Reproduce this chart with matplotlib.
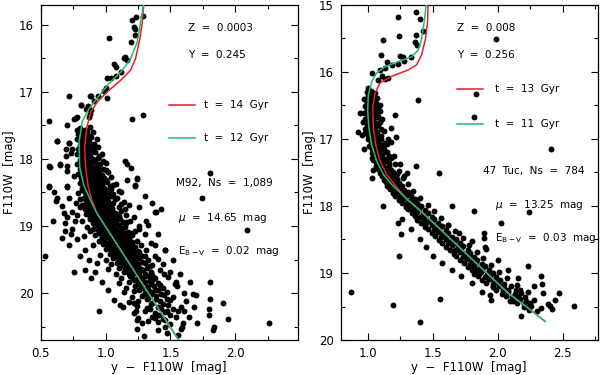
import matplotlib
matplotlib.use("Agg")
import matplotlib.pyplot as plt
from matplotlib.ticker import MultipleLocator

# --- M92 (left panel): observed stars (y - F110W, F110W) ---
m92_outliers = [
    (1.231, 15.89), (1.205, 15.93), (1.218, 16.04), (1.23, 16.07), (1.223, 16.16), (1.192, 16.26),
    (1.29, 15.87), (1.026, 16.20), (1.149, 16.48), (1.162, 16.52), (1.14, 16.50), (1.064, 16.58),
    (1.077, 16.63), (1.115, 16.71), (1.077, 16.76), (1.038, 16.80), (1.013, 16.79), (1.0, 16.95),
    (0.987, 16.99), (0.94, 17.07), (1.008, 17.10), (0.91, 17.14), (0.885, 17.06), (0.808, 17.20),
    (0.846, 17.25), (0.885, 17.27), (0.777, 17.37), (0.77, 17.39), (0.718, 17.07), (0.564, 17.44),
    (0.705, 17.50), (1.205, 17.40), (1.29, 17.35), (0.782, 17.57), (0.808, 17.64), (0.623, 17.73),
    (0.718, 17.76), (0.692, 17.86), (0.731, 17.91), (0.692, 17.95), (0.649, 18.08), (0.564, 18.11),
    (0.705, 18.11), (0.705, 18.18), (1.146, 18.03), (1.162, 18.07), (1.167, 18.31), (1.244, 18.30),
    (1.808, 18.21), (0.564, 18.40), (0.70, 18.40), (1.226, 18.39), (0.882, 17.06), (0.754, 17.40),
    (0.869, 17.38), (0.882, 17.33), (0.81, 17.20), (0.864, 17.21), (0.626, 17.74), (0.72, 17.76),
    (0.741, 17.85), (0.574, 18.12), (0.651, 18.09), (0.754, 18.26), (0.567, 18.42), (0.60, 18.50),
    (0.703, 18.42), (1.036, 18.47), (1.10, 18.48), (1.197, 18.14), (1.241, 18.29), (1.228, 18.40),
    (0.626, 18.58), (0.592, 18.92), (0.677, 18.81), (0.685, 19.08), (0.741, 19.04), (0.715, 19.29),
    (0.531, 19.45), (0.759, 19.69), (0.844, 19.66), (0.89, 19.78), (0.946, 20.26), (0.92, 19.68),
    (1.356, 18.66), (1.377, 18.79), (1.31, 18.93), (1.156, 18.94), (1.254, 19.04), (1.382, 19.28),
    (1.459, 19.36), (1.062, 20.10), (1.108, 20.18), (1.215, 20.14), (1.233, 20.27), (1.241, 20.40),
    (1.377, 20.37), (1.472, 20.26), (1.292, 20.64), (1.743, 18.58), (1.423, 18.75), (1.385, 18.79),
    (2.09, 19.06), (1.461, 19.36), (1.50, 19.68), (1.572, 19.71), (1.802, 19.84), (1.649, 19.84),
    (1.538, 19.87), (1.602, 20.00), (1.674, 20.02), (1.70, 20.03), (1.905, 20.14), (1.802, 20.09),
    (1.602, 20.27), (1.795, 20.23), (1.795, 20.32), (1.941, 20.39), (2.256, 20.45), (1.705, 20.45),
    (1.59, 20.51), (1.833, 20.51), (1.83, 20.55),
    (0.62, 18.62), (0.66, 18.70), (0.72, 18.58), (0.69, 18.95), (0.76, 18.92), (0.73, 19.12),
    (0.78, 19.20), (0.66, 19.18), (0.80, 19.45), (0.87, 19.50), (0.93, 19.55), (0.97, 19.84),
    (1.02, 19.95), (1.30, 18.55), (1.26, 18.72), (1.33, 18.98), (1.40, 19.12), (1.38, 19.44),
    (1.44, 19.56), (1.52, 19.50), (1.55, 19.90), (1.62, 20.12), (1.68, 20.20), (1.47, 20.60),
    (1.56, 20.62), (1.40, 20.55), (1.64, 20.35),
]

m92_sequence = [
    (0.80, 17.54), (0.84, 17.57), (0.88, 17.53),
    (0.79, 17.63), (0.83, 17.61), (0.86, 17.64), (0.90, 17.60),
    (0.78, 17.71), (0.82, 17.69), (0.85, 17.72), (0.89, 17.68), (0.93, 17.71),
    (0.80, 17.79), (0.84, 17.77), (0.87, 17.80), (0.91, 17.78),
    (0.79, 17.86), (0.82, 17.84), (0.86, 17.87), (0.89, 17.85), (0.94, 17.83),
    (0.78, 17.93), (0.81, 17.91), (0.84, 17.94), (0.88, 17.92), (0.92, 17.90), (0.97, 17.93),
    (0.80, 18.01), (0.83, 17.99), (0.86, 18.02), (0.90, 18.00), (0.94, 17.98),
    (0.78, 18.08), (0.82, 18.06), (0.85, 18.09), (0.88, 18.07), (0.92, 18.05), (0.96, 18.08), (1.00, 18.06),
    (0.80, 18.15), (0.83, 18.13), (0.87, 18.16), (0.90, 18.14), (0.94, 18.12), (0.98, 18.15),
    (0.79, 18.22), (0.82, 18.20), (0.85, 18.23), (0.89, 18.21), (0.92, 18.19), (0.96, 18.22), (1.02, 18.20),
    (0.81, 18.29), (0.84, 18.27), (0.88, 18.30), (0.91, 18.28), (0.95, 18.26), (0.99, 18.29), (1.04, 18.27),
    (0.80, 18.36), (0.83, 18.34), (0.86, 18.37), (0.90, 18.35), (0.93, 18.33), (0.97, 18.36), (1.01, 18.34),
    (1.08, 18.37),
    (0.82, 18.43), (0.85, 18.41), (0.88, 18.44), (0.92, 18.42), (0.95, 18.40), (0.99, 18.43), (1.03, 18.41),
    (0.79, 18.51), (0.84, 18.49), (0.87, 18.52), (0.90, 18.50), (0.94, 18.48), (0.97, 18.51), (1.01, 18.49),
    (1.06, 18.52), (1.12, 18.50),
    (0.83, 18.58), (0.86, 18.56), (0.89, 18.59), (0.93, 18.57), (0.96, 18.55), (1.00, 18.58), (1.04, 18.56),
    (1.09, 18.59),
    (0.77, 18.65), (0.85, 18.63), (0.88, 18.66), (0.91, 18.64), (0.95, 18.62), (0.98, 18.65), (1.02, 18.63),
    (1.06, 18.66), (1.14, 18.64),
    (0.80, 18.72), (0.84, 18.70), (0.87, 18.73), (0.90, 18.71), (0.94, 18.69), (0.97, 18.72), (1.01, 18.70),
    (1.05, 18.73), (1.10, 18.71), (1.18, 18.69),
    (0.74, 18.79), (0.86, 18.77), (0.89, 18.80), (0.92, 18.78), (0.96, 18.76), (0.99, 18.79), (1.03, 18.77),
    (1.07, 18.80), (1.12, 18.78),
    (0.70, 18.86), (0.78, 18.84), (0.88, 18.87), (0.91, 18.85), (0.95, 18.83), (0.98, 18.86), (1.02, 18.84),
    (1.06, 18.87), (1.10, 18.85), (1.16, 18.83), (1.22, 18.86),
    (0.82, 18.93), (0.90, 18.91), (0.93, 18.94), (0.97, 18.92), (1.00, 18.90), (1.04, 18.93), (1.08, 18.91),
    (1.13, 18.94), (1.19, 18.92),
    (0.86, 19.01), (0.92, 18.99), (0.95, 19.02), (0.99, 19.00), (1.02, 18.98), (1.06, 19.01), (1.10, 18.99),
    (1.15, 19.02), (1.26, 19.00),
    (0.88, 19.08), (0.94, 19.06), (0.98, 19.09), (1.01, 19.07), (1.05, 19.05), (1.08, 19.08), (1.12, 19.06),
    (1.17, 19.09), (1.23, 19.07),
    (0.83, 19.15), (0.92, 19.13), (0.97, 19.16), (1.00, 19.14), (1.04, 19.12), (1.07, 19.15), (1.11, 19.13),
    (1.15, 19.16), (1.20, 19.14), (1.30, 19.12),
    (0.95, 19.22), (0.99, 19.20), (1.03, 19.23), (1.06, 19.21), (1.10, 19.19), (1.14, 19.22), (1.18, 19.20),
    (1.24, 19.23),
    (0.90, 19.29), (0.98, 19.27), (1.02, 19.30), (1.05, 19.28), (1.09, 19.26), (1.13, 19.29), (1.17, 19.27),
    (1.21, 19.30), (1.27, 19.28), (1.35, 19.26),
    (0.84, 19.36), (1.00, 19.34), (1.04, 19.37), (1.08, 19.35), (1.12, 19.33), (1.16, 19.36), (1.20, 19.34),
    (1.25, 19.37), (1.31, 19.35),
    (0.96, 19.43), (1.03, 19.41), (1.07, 19.44), (1.11, 19.42), (1.15, 19.40), (1.19, 19.43), (1.23, 19.41),
    (1.28, 19.44),
    (1.00, 19.50), (1.06, 19.48), (1.10, 19.51), (1.14, 19.49), (1.18, 19.47), (1.22, 19.50), (1.26, 19.48),
    (1.33, 19.51), (1.40, 19.49),
    (1.04, 19.57), (1.09, 19.55), (1.13, 19.58), (1.17, 19.56), (1.21, 19.54), (1.25, 19.57), (1.30, 19.55),
    (1.36, 19.58),
    (1.02, 19.64), (1.10, 19.62), (1.15, 19.65), (1.19, 19.63), (1.23, 19.61), (1.27, 19.64), (1.32, 19.62),
    (1.42, 19.65),
    (1.08, 19.71), (1.14, 19.69), (1.18, 19.72), (1.22, 19.70), (1.26, 19.68), (1.30, 19.71), (1.35, 19.69),
    (1.45, 19.72),
    (1.12, 19.78), (1.20, 19.76), (1.24, 19.79), (1.28, 19.77), (1.33, 19.75), (1.38, 19.78), (1.48, 19.76),
    (1.10, 19.85), (1.18, 19.83), (1.25, 19.86), (1.30, 19.84), (1.34, 19.82), (1.40, 19.85), (1.54, 19.83),
    (1.16, 19.92), (1.23, 19.90), (1.28, 19.93), (1.32, 19.91), (1.37, 19.89), (1.44, 19.92),
    (1.14, 19.99), (1.22, 19.97), (1.30, 20.00), (1.35, 19.98), (1.40, 19.96), (1.47, 19.99),
    (1.20, 20.06), (1.28, 20.04), (1.33, 20.07), (1.39, 20.05), (1.45, 20.03), (1.52, 20.06),
    (1.18, 20.13), (1.25, 20.11), (1.36, 20.14), (1.42, 20.12), (1.50, 20.10),
    (1.13, 20.21), (1.24, 20.19), (1.32, 20.22), (1.40, 20.20), (1.48, 20.18), (1.58, 20.21),
    (1.22, 20.29), (1.30, 20.27), (1.38, 20.30), (1.46, 20.28), (1.56, 20.26),
    (1.25, 20.37), (1.36, 20.35), (1.44, 20.38), (1.54, 20.36),
    (1.28, 20.45), (1.40, 20.43), (1.50, 20.46), (1.60, 20.44),
    (1.24, 20.53), (1.46, 20.51), (1.58, 20.54),
]

m92_sequence_fill = [
    (0.82, 17.58), (0.86, 17.59), (0.81, 17.66), (0.88, 17.66), (0.80, 17.74), (0.83, 17.75), (0.87, 17.74),
    (0.81, 17.82), (0.85, 17.81), (0.92, 17.82), (0.80, 17.89), (0.83, 17.88), (0.87, 17.89), (0.90, 17.88),
    (0.82, 17.96), (0.85, 17.97), (0.88, 17.96), (0.95, 17.96), (0.81, 18.04), (0.84, 18.03), (0.88, 18.04),
    (0.92, 18.03), (0.98, 18.03), (0.81, 18.11), (0.85, 18.11), (0.89, 18.10), (0.93, 18.11), (0.82, 18.18),
    (0.86, 18.18), (0.90, 18.17), (0.94, 18.18), (1.00, 18.17), (0.83, 18.25), (0.87, 18.25), (0.90, 18.24),
    (0.93, 18.25), (0.97, 18.24), (0.82, 18.32), (0.86, 18.31), (0.89, 18.32), (0.92, 18.31), (0.96, 18.32),
    (1.00, 18.31), (0.84, 18.39), (0.87, 18.38), (0.91, 18.39), (0.94, 18.38), (0.97, 18.39), (1.06, 18.39),
    (0.82, 18.46), (0.86, 18.46), (0.89, 18.45), (0.93, 18.46), (0.96, 18.45), (1.00, 18.46), (1.04, 18.45),
    (0.85, 18.54), (0.88, 18.53), (0.92, 18.54), (0.95, 18.53), (0.99, 18.54), (1.03, 18.53), (0.80, 18.60),
    (0.87, 18.61), (0.90, 18.60), (0.94, 18.61), (0.97, 18.60), (1.01, 18.61), (1.07, 18.60), (0.82, 18.68),
    (0.86, 18.67), (0.89, 18.68), (0.92, 18.67), (0.96, 18.68), (1.00, 18.67), (1.03, 18.68), (1.12, 18.67),
    (0.84, 18.75), (0.88, 18.74), (0.91, 18.75), (0.94, 18.74), (0.98, 18.75), (1.01, 18.74), (1.05, 18.75),
    (1.15, 18.74), (0.85, 18.82), (0.90, 18.81), (0.93, 18.82), (0.97, 18.81), (1.00, 18.82), (1.04, 18.81),
    (1.08, 18.82), (0.88, 18.89), (0.92, 18.88), (0.95, 18.89), (0.99, 18.88), (1.02, 18.89), (1.06, 18.88),
    (1.11, 18.89), (0.90, 18.96), (0.94, 18.96), (0.97, 18.95), (1.01, 18.96), (1.04, 18.95), (1.08, 18.96),
    (1.16, 18.95), (0.90, 19.04), (0.97, 19.03), (1.00, 19.04), (1.04, 19.03), (1.08, 19.04), (1.13, 19.03),
    (0.95, 19.11), (0.99, 19.10), (1.03, 19.11), (1.06, 19.10), (1.10, 19.11), (1.14, 19.10), (1.20, 19.11),
    (0.97, 19.18), (1.01, 19.17), (1.05, 19.18), (1.09, 19.17), (1.12, 19.18), (1.17, 19.17), (1.00, 19.25),
    (1.04, 19.24), (1.08, 19.25), (1.11, 19.24), (1.15, 19.25), (1.20, 19.24), (1.02, 19.32), (1.06, 19.31),
    (1.10, 19.32), (1.14, 19.31), (1.18, 19.32), (1.23, 19.31), (1.05, 19.39), (1.09, 19.38), (1.13, 19.39),
    (1.17, 19.38), (1.21, 19.39), (1.26, 19.38), (1.08, 19.46), (1.12, 19.45), (1.16, 19.46), (1.20, 19.45),
    (1.24, 19.46), (1.30, 19.45), (1.11, 19.53), (1.15, 19.52), (1.19, 19.53), (1.23, 19.52), (1.28, 19.53),
    (1.13, 19.60), (1.17, 19.59), (1.21, 19.60), (1.25, 19.59), (1.34, 19.60), (1.16, 19.67), (1.20, 19.66),
    (1.24, 19.67), (1.29, 19.66), (1.19, 19.74), (1.26, 19.73), (1.31, 19.74), (1.36, 19.73), (1.22, 19.81),
    (1.28, 19.80), (1.36, 19.81), (1.27, 19.88), (1.35, 19.87), (1.42, 19.88), (1.26, 19.95), (1.33, 19.94),
    (1.38, 19.95), (1.31, 20.02), (1.36, 20.01), (1.43, 20.02), (1.32, 20.09), (1.39, 20.08), (1.47, 20.09),
    (1.35, 20.16), (1.44, 20.16), (1.34, 20.24), (1.43, 20.24), (1.52, 20.24), (1.41, 20.32), (1.50, 20.33),
    (1.33, 20.41), (1.46, 20.40),
]

# M92 isochrones
m92_iso14_color = [1.295, 1.282, 1.264, 1.23, 1.192, 1.115, 1.013, 0.936, 0.885, 0.854, 0.838, 0.846,
                   0.864, 0.89, 0.93, 0.997, 1.063, 1.13, 1.197, 1.263, 1.33, 1.397, 1.463, 1.53, 1.60, 1.636]
m92_iso14_mag = [15.67, 15.97, 16.21, 16.51, 16.68, 16.83, 17.0, 17.15, 17.30, 17.54, 17.84, 18.13,
                 18.40, 18.60, 18.80, 19.0, 19.2, 19.4, 19.6, 19.8, 20.0, 20.2, 20.4, 20.6, 20.8, 20.9]
m92_iso12_color = [1.295, 1.269, 1.244, 1.192, 1.115, 1.038, 0.962, 0.872, 0.82, 0.795, 0.80, 0.833,
                   0.88, 0.93, 0.997, 1.063, 1.13, 1.197, 1.263, 1.33, 1.397, 1.463, 1.53, 1.60, 1.636]
m92_iso12_mag = [15.67, 15.97, 16.26, 16.51, 16.71, 16.85, 17.03, 17.25, 17.44, 17.74, 18.13, 18.40,
                 18.60, 18.80, 19.0, 19.2, 19.4, 19.6, 19.8, 20.0, 20.2, 20.4, 20.6, 20.8, 20.9]

# --- 47 Tuc (right panel) ---
tuc_outliers = [
    (1.233, 15.19), (1.366, 15.11), (1.40, 15.22), (1.241, 15.47), (1.118, 15.53), (1.366, 15.46),
    (1.361, 15.56), (1.374, 15.61), (1.425, 15.40), (1.097, 15.75), (1.246, 15.76), (1.271, 15.78),
    (1.33, 15.78), (1.143, 15.86), (1.182, 15.90), (1.228, 15.88), (1.28, 15.84), (1.028, 16.02),
    (1.092, 15.98), (1.13, 15.95), (1.105, 16.06), (1.156, 16.09), (1.13, 16.11), (1.079, 16.12),
    (1.387, 16.43), (1.0, 16.25), (1.015, 16.40), (0.99, 16.44), (1.015, 16.52), (0.99, 16.57),
    (1.079, 16.54), (1.092, 16.59), (1.066, 16.67), (1.207, 16.64), (0.925, 16.90), (0.977, 16.86),
    (1.028, 16.81), (1.177, 16.84), (1.09, 16.75), (1.079, 16.96), (1.215, 16.98), (1.028, 17.06),
    (1.13, 17.08), (1.151, 17.01), (1.143, 17.19), (1.028, 17.28), (1.369, 17.41), (1.548, 17.51),
    (1.041, 17.46), (1.22, 17.52), (1.297, 17.51), (1.28, 17.56), (1.028, 17.59),
    (1.99, 15.52), (1.833, 16.34), (1.818, 16.68), (2.41, 17.15),
    (1.118, 18.0), (1.231, 18.26), (1.252, 18.42), (1.236, 18.75), (0.869, 19.28), (1.189, 19.47),
    (1.40, 19.73), (1.555, 19.39), (1.651, 18.0), (1.818, 18.07), (2.243, 18.09), (2.023, 18.26),
    (1.895, 18.41), (1.895, 18.48), (1.91, 18.64), (2.23, 18.89), (2.333, 19.05), (2.338, 19.16),
    (2.474, 19.30), (2.59, 19.49), (2.177, 19.64), (2.236, 19.51), (1.94, 19.33), (2.095, 19.41),
    (2.39, 19.46), (2.415, 19.53), (2.40, 19.49), (1.859, 19.02), (1.966, 19.19), (2.172, 19.26),
    (1.26, 18.20), (1.33, 18.35), (1.40, 18.50), (1.45, 18.62), (1.50, 18.75), (1.57, 18.85),
    (1.65, 18.95), (1.72, 19.05), (1.80, 19.15), (1.88, 19.28), (1.95, 19.40), (1.62, 18.28),
    (1.70, 18.40), (1.80, 18.52), (1.90, 18.62), (2.00, 18.80), (2.08, 18.95), (2.16, 19.08),
    (2.28, 19.20), (2.35, 19.30), (2.44, 19.40), (0.94, 16.62), (0.95, 16.95), (0.97, 17.15),
    (1.18, 17.05), (1.20, 17.25), (1.25, 17.38),
]

tuc_sequence = [
    (0.99, 16.31), (1.02, 16.29), (1.05, 16.32),
    (0.97, 16.41), (1.00, 16.39), (1.03, 16.42), (1.07, 16.40),
    (0.98, 16.51), (1.01, 16.49), (1.04, 16.52), (1.09, 16.50),
    (0.97, 16.61), (1.00, 16.59), (1.03, 16.62), (1.06, 16.60),
    (0.98, 16.71), (1.01, 16.69), (1.04, 16.72), (1.11, 16.70),
    (0.99, 16.81), (1.02, 16.79), (1.05, 16.82), (1.08, 16.80),
    (0.98, 16.91), (1.01, 16.89), (1.04, 16.92), (1.07, 16.90), (1.12, 16.88),
    (1.00, 17.01), (1.03, 16.99), (1.06, 17.02), (1.10, 17.00),
    (1.01, 17.11), (1.04, 17.09), (1.07, 17.12), (1.10, 17.10), (1.15, 17.08),
    (1.03, 17.21), (1.06, 17.19), (1.09, 17.22), (1.13, 17.20),
    (1.04, 17.31), (1.07, 17.29), (1.10, 17.32), (1.14, 17.30), (1.18, 17.28),
    (1.06, 17.41), (1.09, 17.39), (1.12, 17.42), (1.16, 17.40), (1.21, 17.38),
    (1.09, 17.51), (1.12, 17.49), (1.15, 17.52), (1.19, 17.50), (1.24, 17.48),
    (1.12, 17.61), (1.15, 17.59), (1.18, 17.62), (1.22, 17.60), (1.27, 17.58),
    (1.15, 17.71), (1.19, 17.69), (1.22, 17.72), (1.26, 17.70), (1.31, 17.68),
    (1.19, 17.81), (1.23, 17.79), (1.27, 17.82), (1.31, 17.80), (1.35, 17.78),
    (1.24, 17.91), (1.28, 17.89), (1.32, 17.92), (1.36, 17.90), (1.40, 17.88),
    (1.29, 18.01), (1.33, 17.99), (1.37, 18.02), (1.41, 18.00), (1.46, 17.98),
    (1.34, 18.11), (1.38, 18.09), (1.42, 18.12), (1.46, 18.10), (1.51, 18.08),
    (1.38, 18.21), (1.43, 18.19), (1.47, 18.22), (1.51, 18.20), (1.56, 18.18),
    (1.44, 18.31), (1.49, 18.29), (1.53, 18.32), (1.57, 18.30), (1.62, 18.28),
    (1.49, 18.41), (1.54, 18.39), (1.58, 18.42), (1.62, 18.40), (1.67, 18.38),
    (1.55, 18.51), (1.60, 18.49), (1.64, 18.52), (1.68, 18.50), (1.73, 18.48),
    (1.60, 18.61), (1.65, 18.59), (1.69, 18.62), (1.73, 18.60), (1.78, 18.58),
    (1.66, 18.71), (1.71, 18.69), (1.75, 18.72), (1.79, 18.70), (1.84, 18.68),
    (1.71, 18.81), (1.76, 18.79), (1.80, 18.82), (1.84, 18.80), (1.89, 18.78),
    (1.77, 18.91), (1.82, 18.89), (1.86, 18.92), (1.90, 18.90), (1.95, 18.88),
    (1.82, 19.01), (1.87, 18.99), (1.92, 19.02), (1.96, 19.00), (2.01, 18.98),
    (1.88, 19.11), (1.93, 19.09), (1.97, 19.12), (2.02, 19.10), (2.07, 19.08),
    (1.96, 19.21), (2.01, 19.19), (2.05, 19.22), (2.10, 19.20), (2.15, 19.18),
    (2.03, 19.31), (2.08, 19.29), (2.13, 19.32), (2.18, 19.30), (2.23, 19.28),
    (2.12, 19.41), (2.17, 19.39), (2.22, 19.42), (2.28, 19.40),
    (2.20, 19.51), (2.26, 19.49), (2.33, 19.52),
]

tuc_sequence_fill = [
    (1.00, 16.35), (1.04, 16.36), (0.99, 16.46), (1.02, 16.45), (1.06, 16.46), (0.99, 16.55), (1.02, 16.56),
    (1.06, 16.55), (1.00, 16.66), (1.03, 16.65), (1.08, 16.66), (0.96, 16.75), (1.00, 16.76), (1.03, 16.75),
    (1.06, 16.76), (1.00, 16.85), (1.04, 16.86), (1.10, 16.85), (1.00, 16.95), (1.03, 16.96), (1.06, 16.95),
    (1.10, 16.96), (1.02, 17.05), (1.05, 17.06), (1.08, 17.05), (1.13, 17.06), (1.03, 17.15), (1.06, 17.16),
    (1.09, 17.15), (1.12, 17.16), (1.05, 17.25), (1.08, 17.26), (1.11, 17.25), (1.16, 17.26), (1.06, 17.35),
    (1.09, 17.36), (1.12, 17.35), (1.16, 17.36), (1.08, 17.45), (1.11, 17.46), (1.14, 17.45), (1.18, 17.46),
    (1.11, 17.55), (1.14, 17.56), (1.17, 17.55), (1.21, 17.56), (1.14, 17.65), (1.17, 17.66), (1.20, 17.65),
    (1.24, 17.66), (1.17, 17.75), (1.21, 17.76), (1.24, 17.75), (1.28, 17.76), (1.21, 17.85), (1.25, 17.86),
    (1.29, 17.85), (1.33, 17.86), (1.26, 17.95), (1.30, 17.96), (1.34, 17.95), (1.38, 17.96), (1.31, 18.05),
    (1.35, 18.06), (1.39, 18.05), (1.44, 18.06), (1.36, 18.15), (1.40, 18.16), (1.44, 18.15), (1.49, 18.16),
    (1.41, 18.25), (1.45, 18.26), (1.49, 18.25), (1.54, 18.26), (1.46, 18.35), (1.51, 18.36), (1.55, 18.35),
    (1.60, 18.36), (1.52, 18.45), (1.56, 18.46), (1.60, 18.45), (1.65, 18.46), (1.57, 18.55), (1.62, 18.56),
    (1.66, 18.55), (1.71, 18.56), (1.63, 18.65), (1.67, 18.66), (1.72, 18.65), (1.77, 18.66), (1.68, 18.75),
    (1.73, 18.76), (1.78, 18.75), (1.82, 18.76), (1.74, 18.85), (1.79, 18.86), (1.83, 18.85), (1.88, 18.86),
    (1.80, 18.95), (1.84, 18.96), (1.88, 18.95), (1.93, 18.96), (1.85, 19.05), (1.90, 19.06), (1.94, 19.05),
    (1.99, 19.06), (1.91, 19.15), (1.96, 19.16), (2.00, 19.15), (2.05, 19.16), (1.99, 19.25), (2.04, 19.26),
    (2.08, 19.25), (2.14, 19.26), (2.06, 19.35), (2.11, 19.36), (2.16, 19.35), (2.21, 19.36), (2.15, 19.45),
    (2.20, 19.46), (2.25, 19.45), (2.24, 19.55), (2.30, 19.56),
]

# 47 Tuc isochrones
tuc_iso13_color = [1.464, 1.459, 1.443, 1.413, 1.374, 1.31, 1.182, 1.092, 1.054, 1.036, 1.041, 1.059,
                   1.092, 1.143, 1.202, 1.30, 1.42, 1.53, 1.64, 1.75, 1.86, 1.97, 2.08, 2.22, 2.364]
tuc_iso13_mag = [14.96, 15.26, 15.51, 15.75, 15.90, 15.975, 16.07, 16.17, 16.32, 16.54, 16.84, 17.09,
                 17.33, 17.53, 17.68, 17.9, 18.1, 18.3, 18.5, 18.7, 18.9, 19.1, 19.3, 19.5, 19.72]
tuc_iso11_color = [1.451, 1.433, 1.413, 1.387, 1.336, 1.233, 1.13, 1.066, 1.028, 1.002, 0.997, 1.007,
                   1.028, 1.066, 1.118, 1.182, 1.30, 1.42, 1.53, 1.64, 1.75, 1.86, 1.97, 2.08, 2.22, 2.364]
tuc_iso11_mag = [14.96, 15.26, 15.51, 15.68, 15.78, 15.85, 15.93, 16.02, 16.15, 16.35, 16.59, 16.84,
                 17.09, 17.33, 17.53, 17.68, 17.9, 18.1, 18.3, 18.5, 18.7, 18.9, 19.1, 19.3, 19.5, 19.72]

RED = '#e3202b'
GREEN = '#1dbf78'
FS = 7.5

plt.rcParams['font.family'] = 'DejaVu Sans'
plt.rcParams['mathtext.fontset'] = 'dejavusans'

fig = plt.figure(figsize=(6, 3.75), dpi=100)
ax1 = fig.add_axes([0.068, 0.093, 0.428, 0.895])
ax2 = fig.add_axes([0.568, 0.093, 0.428, 0.895])


def draw_panel(ax, stars, old_c, old_m, young_c, young_m):
    ax.scatter([p[0] for p in stars], [p[1] for p in stars], s=18, c='black', linewidths=0, zorder=2)
    ax.plot(old_c, old_m, color=RED, lw=1.1, zorder=3)
    ax.plot(young_c, young_m, color=GREEN, lw=1.1, zorder=4)
    ax.tick_params(which='both', direction='in', top=True, right=True, labelsize=8.5, pad=5)
    ax.tick_params(which='major', length=5, width=0.8)
    ax.tick_params(which='minor', length=3, width=0.8)
    ax.xaxis.set_major_locator(MultipleLocator(0.5))
    ax.xaxis.set_minor_locator(MultipleLocator(0.25))
    ax.yaxis.set_major_locator(MultipleLocator(1))
    ax.yaxis.set_minor_locator(MultipleLocator(0.5))
    ax.set_xlabel('y  \u2212  F110W  [mag]', fontsize=8.5, labelpad=1)
    ax.set_ylabel('F110W  [mag]', fontsize=8.5, labelpad=2)
    for s in ax.spines.values():
        s.set_linewidth(0.9)


draw_panel(ax1, m92_outliers + m92_sequence + m92_sequence_fill,
           m92_iso14_color, m92_iso14_mag, m92_iso12_color, m92_iso12_mag)
ax1.set_xlim(0.5, 2.48)
ax1.set_ylim(20.7, 15.7)

t = ax1.transAxes
ax1.text(0.573, 0.930, 'Z  =  0.0003', transform=t, fontsize=FS, va='center')
ax1.text(0.573, 0.850, 'Y  =  0.245', transform=t, fontsize=FS, va='center')
ax1.plot([0.50, 0.60], [0.702, 0.702], color=RED, lw=1.1, transform=t)
ax1.text(0.636, 0.702, 't  =  14  Gyr', transform=t, fontsize=FS, va='center')
ax1.plot([0.50, 0.60], [0.601, 0.601], color=GREEN, lw=1.1, transform=t)
ax1.text(0.636, 0.601, 't  =  12  Gyr', transform=t, fontsize=FS, va='center')
ax1.text(0.526, 0.468, 'M92,  Ns  =  1,089', transform=t, fontsize=FS, va='center')
ax1.text(0.534, 0.364, r'$\mu$  =  14.65  mag', transform=t, fontsize=FS, va='center')
ax1.text(0.534, 0.267, r'E$_{\rm B-V}$  =  0.02  mag', transform=t, fontsize=FS, va='center')

draw_panel(ax2, tuc_outliers + tuc_sequence + tuc_sequence_fill,
           tuc_iso13_color, tuc_iso13_mag, tuc_iso11_color, tuc_iso11_mag)
ax2.set_xlim(0.79, 2.77)
ax2.set_ylim(20.0, 15.0)

t = ax2.transAxes
ax2.text(0.452, 0.930, 'Z  =  0.008', transform=t, fontsize=FS, va='center')
ax2.text(0.452, 0.850, 'Y  =  0.256', transform=t, fontsize=FS, va='center')
ax2.plot([0.452, 0.553], [0.747, 0.747], color=RED, lw=1.1, transform=t)
ax2.text(0.600, 0.747, 't  =  13  Gyr', transform=t, fontsize=FS, va='center')
ax2.plot([0.452, 0.553], [0.643, 0.643], color=GREEN, lw=1.1, transform=t)
ax2.text(0.600, 0.643, 't  =  11  Gyr', transform=t, fontsize=FS, va='center')
ax2.text(0.553, 0.504, '47  Tuc,  Ns  =  784', transform=t, fontsize=FS, va='center')
ax2.text(0.600, 0.403, r'$\mu$  =  13.25  mag', transform=t, fontsize=FS, va='center')
ax2.text(0.600, 0.305, r'E$_{\rm B-V}$  =  0.03  mag', transform=t, fontsize=FS, va='center')

fig.savefig('out.png', dpi=100)
